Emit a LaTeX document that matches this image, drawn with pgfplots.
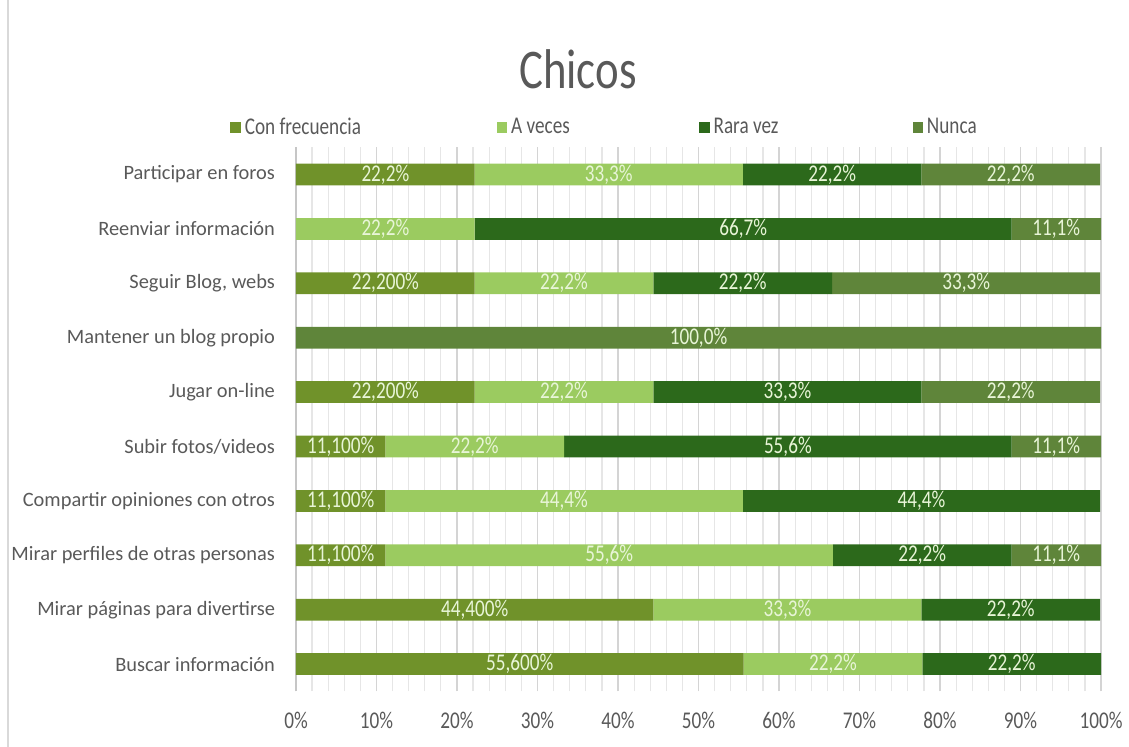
\documentclass[border=0pt]{standalone}
\usepackage{pgfplots}
\pgfplotsset{compat=1.18}
\usepackage{fontspec}
\setmainfont{Carlito}
\newfontfamily\cond[FakeStretch=0.8]{Carlito}
\definecolor{cfrec}{RGB}{112,146,42}
\definecolor{aveces}{RGB}{155,203,96}
\definecolor{rara}{RGB}{44,105,27}
\definecolor{nunca}{RGB}{95,133,58}
\definecolor{txt}{RGB}{89,89,89}
\definecolor{lbl}{RGB}{232,245,215}
\definecolor{gridmaj}{RGB}{212,212,212}
\definecolor{gridmin}{RGB}{230,230,230}
\begin{document}
\begin{tikzpicture}[x=1pt,y=1pt]
\useasboundingbox (-148,-28) rectangle (416.5,345.5);
\draw[gray!30, line width=0.8pt] (-144,-28) -- (-144,345.5);
\begin{axis}[
  at={(0,-0.6)}, anchor=south west, scale only axis,
  width=402.5pt, height=272pt,
  xbar stacked, bar width=0.4,
  xmin=0, xmax=100, ymin=-0.5, ymax=9.5,
  ytick={0,...,9},
  yticklabels={Buscar información, Mirar páginas para divertirse, Mirar perfiles de otras personas, Compartir opiniones con otros, Subir fotos/videos, Jugar on-line, Mantener un blog propio, {Seguir Blog, webs}, Reenviar información, Participar en foros},
  yticklabel style={font=\fontsize{10.2}{12}\selectfont, text=txt, xshift=-7pt},
  xtick={0,10,...,100},
  xticklabel={\pgfmathprintnumber{\tick}\%},
  /pgf/number format/assume math mode=true,
  xticklabel style={font=\cond\fontsize{12}{14}\selectfont, text=txt, yshift=-7pt},
  minor x tick num=4,
  xmajorgrids, xminorgrids,
  major grid style={draw=gridmaj, line width=0.6pt},
  minor grid style={draw=gridmin, line width=0.6pt},
  major tick length=0pt, minor tick length=0pt,
  axis x line*=bottom, axis y line*=left,
  x axis line style={draw=none},
  y axis line style={draw=gray!45, line width=0.6pt},
  title={Chicos},
  title style={at={(0.3503,1.122)}, anchor=center, font=\cond\fontsize{28}{32}\selectfont, text=txt},
  legend columns=4,
  legend style={at={(-0.082,1.0365)}, anchor=west, draw=none, fill=none, inner sep=0pt,
    font=\cond\fontsize{12}{14}\selectfont, text=txt,
    /tikz/every even column/.append style={column sep=0pt}},
  legend cell align=left,
  legend image code/.code={\fill[#1] (0pt,-2.6pt) rectangle (5.2pt,2.6pt);},
  every axis plot/.append style={draw=none},
]
\addplot[fill=cfrec] coordinates {(55.6,0) (44.4,1) (11.1,2) (11.1,3) (11.1,4) (22.2,5) (0,6) (22.2,7) (0,8) (22.2,9)};
\addplot[fill=aveces] coordinates {(22.2,0) (33.3,1) (55.6,2) (44.4,3) (22.2,4) (22.2,5) (0,6) (22.2,7) (22.2,8) (33.3,9)};
\addplot[fill=rara] coordinates {(22.2,0) (22.2,1) (22.2,2) (44.4,3) (55.6,4) (33.3,5) (0,6) (22.2,7) (66.7,8) (22.2,9)};
\addplot[fill=nunca] coordinates {(0,0) (0,1) (11.1,2) (0,3) (11.1,4) (22.2,5) (100,6) (33.3,7) (11.1,8) (22.2,9)};
\legend{\makebox[124pt][l]{Con frecuencia}, \makebox[92pt][l]{A veces}, \makebox[97.5pt][l]{Rara vez}, Nunca}
\end{axis}
\begin{axis}[
  at={(0,-0.6)}, anchor=south west, scale only axis,
  width=402.5pt, height=272pt,
  xmin=0, xmax=100, ymin=-0.5, ymax=9.5,
  hide axis,
]
\addplot[only marks, mark=none, nodes near coords, point meta=explicit symbolic,
  every node near coord/.append style={anchor=center, font=\cond\fontsize{12}{14}\selectfont, text=lbl, inner sep=0pt}]
coordinates {
(27.8,0) [55,600\%] (66.7,0) [22,2\%] (88.9,0) [22,2\%]
(22.2,1) [44,400\%] (61.05,1) [33,3\%] (88.8,1) [22,2\%]
(5.55,2) [11,100\%] (38.9,2) [55,6\%] (77.8,2) [22,2\%] (94.45,2) [11,1\%]
(5.55,3) [11,100\%] (33.3,3) [44,4\%] (77.7,3) [44,4\%]
(5.55,4) [11,100\%] (22.2,4) [22,2\%] (61.1,4) [55,6\%] (94.45,4) [11,1\%]
(11.1,5) [22,200\%] (33.3,5) [22,2\%] (61.05,5) [33,3\%] (88.8,5) [22,2\%]
(50,6) [100,0\%]
(11.1,7) [22,200\%] (33.3,7) [22,2\%] (55.5,7) [22,2\%] (83.25,7) [33,3\%]
(11.1,8) [22,2\%] (55.55,8) [66,7\%] (94.45,8) [11,1\%]
(11.1,9) [22,2\%] (38.85,9) [33,3\%] (66.6,9) [22,2\%] (88.8,9) [22,2\%]
};
\end{axis}
\end{tikzpicture}
\end{document}
